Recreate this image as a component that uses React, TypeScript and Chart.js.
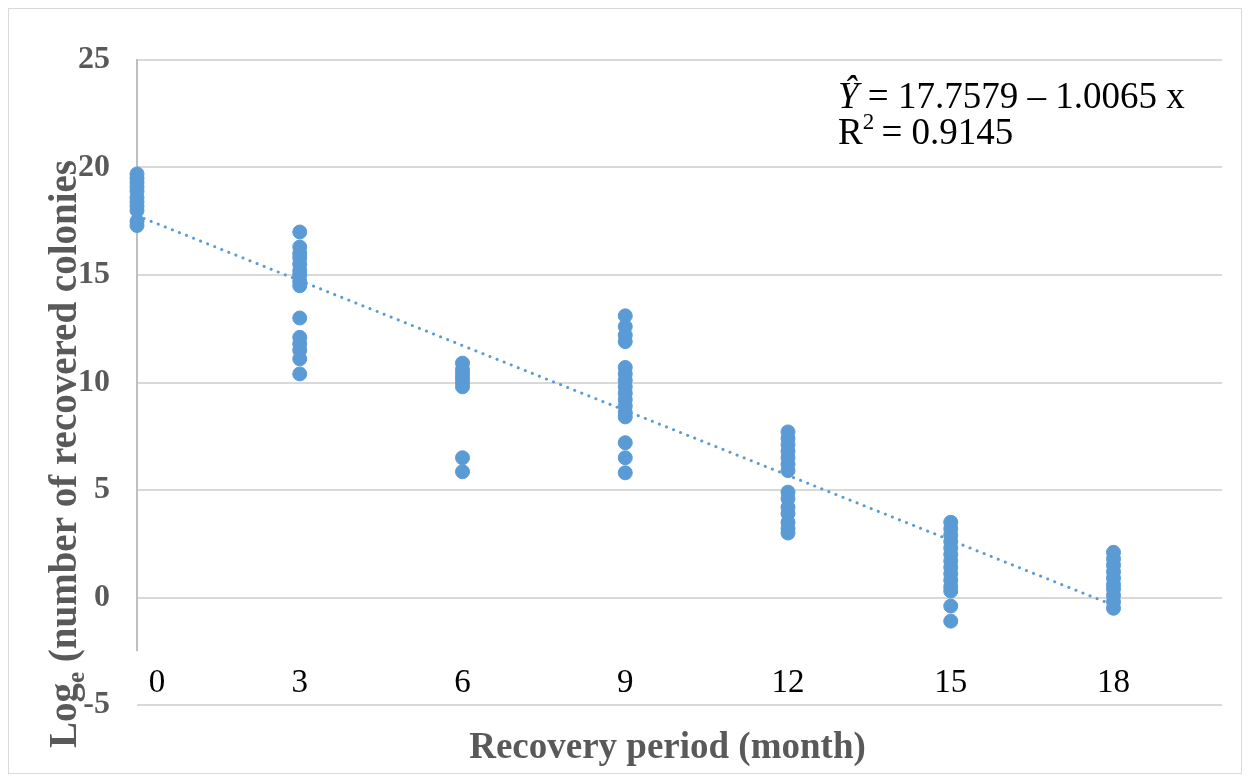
import React, { useEffect, useRef } from "react";
import { Chart, registerables } from "chart.js";

Chart.register(...registerables);

// ---- data ----
const MONTHS = [0, 3, 6, 9, 12, 15, 18];
const Y_MONTH0 = [19.7, 19.5, 19.3, 19.1, 18.9, 18.6, 18.4, 18.2, 18.0, 17.5, 17.3];
const Y_MONTH3 = [17.0, 16.3, 16.0, 15.8, 15.5, 15.2, 15.0, 14.7, 14.5, 13.0, 12.1, 11.8, 11.5, 11.1, 10.4];
const Y_MONTH6 = [10.9, 10.6, 10.4, 10.2, 10.0, 9.8, 6.5, 5.85];
const Y_MONTH9 = [13.1, 12.6, 12.2, 11.9, 10.7, 10.4, 10.1, 9.8, 9.5, 9.2, 8.9, 8.6, 8.4, 7.2, 6.5, 5.8];
const Y_MONTH12 = [7.7, 7.4, 7.1, 6.8, 6.5, 6.2, 5.9, 4.9, 4.6, 4.2, 3.9, 3.5, 3.2, 3.0];
const Y_MONTH15 = [3.5, 3.2, 2.9, 2.6, 2.3, 2.0, 1.7, 1.4, 1.1, 0.8, 0.5, 0.3, -0.4, -1.1];
const Y_MONTH18 = [2.1, 1.8, 1.5, 1.2, 0.9, 0.6, 0.4, 0.1, -0.2, -0.5];
const SERIES_BY_MONTH = [Y_MONTH0, Y_MONTH3, Y_MONTH6, Y_MONTH9, Y_MONTH12, Y_MONTH15, Y_MONTH18];

const INTERCEPT = 17.7579;
const SLOPE = -1.0065;
const R_SQUARED = "0.9145";
const TREND_X = [0, 18];

const X_TICKS = [0, 3, 6, 9, 12, 15, 18];
const X_MIN = 0;
const X_MAX = 20;
const Y_MIN = -5;
const Y_MAX = 25;
const Y_STEP = 5;
const AXIS_CROSS_Y = -2.5;

const X_TITLE = "Recovery period (month)";
const Y_TITLE_MAIN = "Log";
const Y_TITLE_SUB = "e";
const Y_TITLE_REST = " (number of recovered colonies";

const BLUE = "#5B9BD5";
const GRID = "#d9d9d9";
const AXIS_GRAY = "#595959";
const SERIF = '"Liberation Serif", "Times New Roman", serif';

const W = 1234;
const H = 766;

export default function App() {
  const ref = useRef<HTMLCanvasElement | null>(null);

  useEffect(() => {
    const canvas = ref.current;
    if (!canvas) return;

    const points: { x: number; y: number }[] = [];
    MONTHS.forEach((m, i) => {
      SERIES_BY_MONTH[i].forEach((v) => points.push({ x: m, y: v }));
    });
    const trend = TREND_X.map((x) => ({ x, y: INTERCEPT + SLOPE * x }));

    const overlay = {
      id: "overlay",
      beforeDatasetsDraw(chart: any) {
        const { ctx } = chart;
        const xs = chart.scales.x;
        const ys = chart.scales.y;
        ctx.save();
        ctx.strokeStyle = "#bfbfbf";
        ctx.lineWidth = 2;
        const x0 = xs.getPixelForValue(0);
        ctx.beginPath();
        ctx.moveTo(x0, ys.getPixelForValue(Y_MAX) - 1);
        ctx.lineTo(x0, ys.getPixelForValue(AXIS_CROSS_Y));
        ctx.stroke();
        ctx.restore();
      },
      afterDraw(chart: any) {
        const { ctx } = chart;
        const xs = chart.scales.x;
        ctx.save();
        // outer border
        ctx.strokeStyle = GRID;
        ctx.lineWidth = 1;
        ctx.strokeRect(0.5, 0.5, W - 1, H - 1);

        // x tick labels
        ctx.fillStyle = "#000";
        ctx.font = `33px ${SERIF}`;
        ctx.textAlign = "center";
        ctx.textBaseline = "alphabetic";
        X_TICKS.forEach((t, i) => {
          const shift = i === 0 ? 20 : 0;
          ctx.fillText(String(t), xs.getPixelForValue(t) + shift, 684);
        });

        // x title
        ctx.fillStyle = AXIS_GRAY;
        ctx.font = `bold 37px ${SERIF}`;
        ctx.fillText(X_TITLE, (xs.left + xs.right) / 2 - 12, 750);

        // y title (rotated, with subscript)
        const mainFont = `bold 39px ${SERIF}`;
        const subFont = `bold 25px ${SERIF}`;
        ctx.font = mainFont;
        const w1 = ctx.measureText(Y_TITLE_MAIN).width;
        const w3 = ctx.measureText(Y_TITLE_REST).width;
        ctx.font = subFont;
        const w2 = ctx.measureText(Y_TITLE_SUB).width;
        const total = w1 + w2 + w3;
        ctx.translate(68, 446);
        ctx.rotate(-Math.PI / 2);
        ctx.textAlign = "left";
        let cx = -total / 2;
        ctx.font = mainFont;
        ctx.fillText(Y_TITLE_MAIN, cx, 0);
        cx += w1;
        ctx.font = subFont;
        ctx.fillText(Y_TITLE_SUB, cx, 8);
        cx += w2;
        ctx.font = mainFont;
        ctx.fillText(Y_TITLE_REST, cx, 0);
        ctx.setTransform(1, 0, 0, 1, 0, 0);

        // equation
        ctx.fillStyle = "#000";
        ctx.textAlign = "left";
        let ex = 830;
        ctx.font = `italic 37px ${SERIF}`;
        ctx.fillText("\u0176", ex, 100);
        ex += ctx.measureText("\u0176").width;
        ctx.font = `37px ${SERIF}`;
        const slopeTxt = Math.abs(SLOPE).toFixed(4);
        ctx.fillText(` = ${INTERCEPT.toFixed(4)} \u2013 ${slopeTxt} x`, ex, 100);

        let rx = 830;
        ctx.fillText("R", rx, 136);
        rx += ctx.measureText("R").width;
        ctx.font = `23px ${SERIF}`;
        ctx.fillText("2", rx, 121);
        rx += ctx.measureText("2").width;
        ctx.font = `37px ${SERIF}`;
        ctx.fillText(` = ${R_SQUARED}`, rx - 2, 136);
        ctx.restore();
      },
    };

    const chart = new Chart(canvas, {
      type: "scatter",
      data: {
        datasets: [
          {
            label: "observed",
            data: points,
            backgroundColor: BLUE,
            borderColor: BLUE,
            borderWidth: 1,
            pointRadius: 7,
            order: 1,
            clip: false,
          } as any,
          {
            type: "line",
            label: "trend",
            data: trend,
            borderColor: BLUE,
            borderWidth: 3,
            borderDash: [0.1, 7.5],
            borderCapStyle: "round",
            pointRadius: 0,
            fill: false,
            showLine: true,
            order: 2,
          } as any,
        ],
      },
      options: {
        animation: false,
        responsive: false,
        devicePixelRatio: 1,
        layout: { padding: { left: 0, top: 52, right: 20, bottom: 0 } },
        plugins: {
          legend: { display: false },
          tooltip: { enabled: false },
        },
        scales: {
          x: {
            type: "linear",
            min: X_MIN,
            max: X_MAX,
            grid: { display: false },
            border: { display: false },
            ticks: { display: false },
            afterFit: (s: any) => {
              s.height = 69;
            },
          },
          y: {
            type: "linear",
            min: Y_MIN,
            max: Y_MAX,
            ticks: {
              stepSize: Y_STEP,
              padding: 27,
              color: AXIS_GRAY,
              font: { family: SERIF, size: 32, weight: "bold" },
            },
            grid: { color: GRID, lineWidth: 2, drawTicks: false },
            border: { display: false },
            afterFit: (s: any) => {
              s.width = 129;
            },
          },
        },
      } as any,
      plugins: [overlay],
    });

    return () => chart.destroy();
  }, []);

  return (
    <div style={{ width: W, height: H }}>
      <canvas ref={ref} width={W} height={H} style={{ display: "block", width: W, height: H }} />
    </div>
  );
}
